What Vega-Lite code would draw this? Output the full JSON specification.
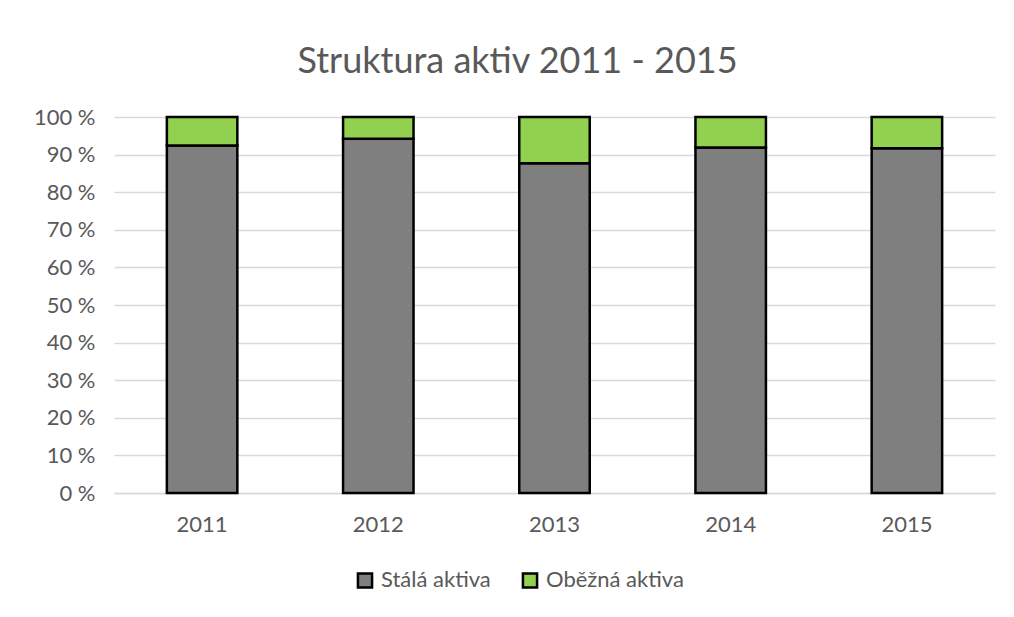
{
  "$schema": "https://vega.github.io/schema/vega-lite/v6.json",
  "autosize": "none",
  "width": 881,
  "height": 376,
  "padding": {"left": 114, "top": 117, "right": 19, "bottom": 124},
  "background": "white",
  "title": {
    "text": "Struktura aktiv 2011 - 2015",
    "font": "Lato",
    "fontSize": 36,
    "fontWeight": "normal",
    "color": "#595959",
    "anchor": "middle",
    "dx": -37,
    "offset": 25
  },
  "data": {
    "values": [
      {"rok": "2011", "typ": "Stálá aktiva", "podil": 92.4},
      {"rok": "2011", "typ": "Oběžná aktiva", "podil": 7.6},
      {"rok": "2012", "typ": "Stálá aktiva", "podil": 94.2},
      {"rok": "2012", "typ": "Oběžná aktiva", "podil": 5.8},
      {"rok": "2013", "typ": "Stálá aktiva", "podil": 87.7},
      {"rok": "2013", "typ": "Oběžná aktiva", "podil": 12.3},
      {"rok": "2014", "typ": "Stálá aktiva", "podil": 91.9},
      {"rok": "2014", "typ": "Oběžná aktiva", "podil": 8.1},
      {"rok": "2015", "typ": "Stálá aktiva", "podil": 91.7},
      {"rok": "2015", "typ": "Oběžná aktiva", "podil": 8.3}
    ]
  },
  "mark": {"type": "bar", "stroke": "black", "strokeWidth": 2.5},
  "encoding": {
    "x": {
      "field": "rok",
      "type": "nominal",
      "scale": {"paddingInner": 0.6, "paddingOuter": 0.3},
      "axis": {
        "title": null,
        "labelAngle": 0,
        "labelFont": "Lato",
        "labelFontSize": 22,
        "labelColor": "#595959",
        "labelPadding": 21,
        "ticks": false,
        "domainColor": "#d9d9d9",
        "domainWidth": 1.5
      }
    },
    "y": {
      "field": "podil",
      "type": "quantitative",
      "stack": "normalize",
      "scale": {"domain": [0, 1], "nice": false},
      "axis": {
        "title": null,
        "values": [0, 0.1, 0.2, 0.3, 0.4, 0.5, 0.6, 0.7, 0.8, 0.9, 1],
        "labelExpr": "format(datum.value * 100, 'd') + ' %'",
        "labelFont": "Lato",
        "labelFontSize": 22,
        "labelColor": "#595959",
        "labelPadding": 19,
        "ticks": false,
        "domain": false,
        "gridColor": "#d9d9d9",
        "gridWidth": 1.5
      }
    },
    "color": {
      "field": "typ",
      "type": "nominal",
      "scale": {"domain": ["Stálá aktiva", "Oběžná aktiva"], "range": ["#7f7f7f", "#92d050"]},
      "legend": {
        "title": null,
        "orient": "none",
        "legendX": 240,
        "legendY": 452,
        "direction": "horizontal",
        "labelFont": "Lato",
        "labelFontSize": 22,
        "labelColor": "#595959",
        "labelOffset": 5,
        "symbolType": "square",
        "symbolSize": 200,
        "symbolStrokeColor": "black",
        "symbolStrokeWidth": 2.5,
        "columnPadding": 26
      }
    },
    "order": {"field": "typ", "sort": "descending"}
  },
  "config": {"view": {"stroke": null}}
}
